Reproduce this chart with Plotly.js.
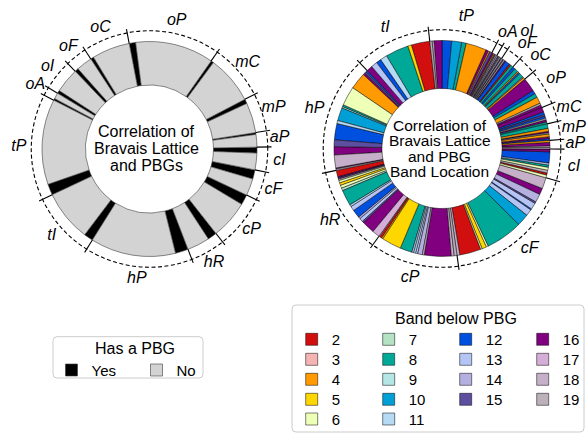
<!DOCTYPE html>
<html><head><meta charset="utf-8">
<script src="https://cdn.plot.ly/plotly-3.0.1.min.js"></script>
<style>html,body{margin:0;padding:0;background:#fff}#chart{width:587px;height:434px}</style>
</head><body><div id="chart"></div>
<script>
// ---------------- DATA ----------------
// Left ring: all structures per Bravais lattice (clockwise from top)
const latticeLeft = ['oP','mC','mP','aP','cI','cF','cP','hR','hP','tI','tP','oA','oI','oF','oC'];
const hasPBG_yes  = [3.5, 1.5, 2.4, 1.0, 3.2, 5.0, 5.6, 5.0, 7.0, 5.0, 6.0, 1.0, 1.7, 2.0, 1.7];
const hasPBG_no   = [42.4, 26.0, 16.3, 6.8, 9.0, 9.2, 20.8, 12.2, 46.1, 27.7, 46.2, 3.2, 13.4, 8.6, 20.5];

// Right ring: PBGs per lattice, split by band below the gap (clockwise from top)
const latticeRight = ['tP','oA','oI','oF','oC','oP','mC','mP','aP','cI','cF','cP','hR','hP','tI'];
const tP_band = [19,18,16,12,10,8,4,16,4,15];
const tP_val  = [1.2,1.0,4.3,5.2,5.3,2.5,11,1.5,0.8,1.2];
const oA_band = [16,4,15,19];
const oA_val  = [1.0,0.6,0.7,0.7];
const oI_band = [19,15,18,19,15];
const oI_val  = [0.6,0.6,0.6,0.6,0.6];
const oF_band = [19,15,19,16,12,2,8];
const oF_val  = [0.7,0.6,0.7,0.6,2.5,1.0,1.4];
const oC_band = [12,8,4,12,8,13,4];
const oC_val  = [1.5,2.0,0.6,1.0,2.4,0.5,1.0];
const oP_band = [16,12,8,4,19,16];
const oP_val  = [7.5,2.0,2.2,3.5,1.0,1.5];
const mC_band = [16,12,15,12,19,16,8];
const mC_val  = [2.5,1.5,0.8,1.3,0.8,1.2,1.0];
const mP_band = [8,4,16,19,4,16,12];
const mP_val  = [2.5,1.5,0.8,0.6,1.5,1.0,1.0];
const aP_band = [4,16,18,19];
const aP_val  = [1.0,2.0,0.8,0.8];
const cI_band = [16,12,13,8,6,19,2,6];
const cI_val  = [1.5,6.0,1.0,1.3,1.5,1.5,1.2,1.4];
const cF_band = [18,16,14,15,13,12,13,10,8,6,5,6,2,18];
const cF_val  = [6.0,3.5,4.5,0.8,3.5,0.7,3.5,6.5,20,1.0,2.5,0.8,11.5,1.5];
const cP_band = [19,18,16,18,14,13,11,13,8,5,4,2,3];
const cP_val  = [1.5,1.5,14.5,1.0,2.5,1.2,1.0,1.0,6.5,10.5,0.8,1.2,0.5];
const hR_band = [17,16,15,13,14,12,13,11,8,7,6,5,6,19,15,16,2];
const hR_val  = [4.0,7.0,0.8,2.0,1.0,4.5,2.5,1.0,8.5,1.5,1.5,1.5,1.2,0.8,0.6,0.7,3.5];
const hP_band = [19,16,18,16,15,12,11,10,9,8,6,4,16,15,12];
const hP_val  = [0.7,0.6,6.9,4.5,3.6,8.8,1.6,7.0,0.8,1.1,10.3,9.0,1.2,0.8,1.0];
const tI_band = [16,13,12,11,8,5,2];
const tI_val  = [3.2,3.3,2.7,3.7,12.5,1.9,10.0];

const bandList = [2,3,4,5,6,7,8,9,10,11,12,13,14,15,16,17,18,19];

// ---------------- STYLE ----------------
const FONT = 'Liberation Sans, Arial, Helvetica, sans-serif';
const bandColor = {2:'#d10f0f',3:'#f5b4b4',4:'#ff9a00',5:'#ffd700',6:'#eeffb8',7:'#b4e3c4',
  8:'#00a898',9:'#b4e6e6',10:'#00a0d6',11:'#b4daf4',12:'#0050e0',13:'#b4c4f4',14:'#b4b0e0',
  15:'#5e4ea0',16:'#800080',17:'#d4aed8',18:'#c6afc8',19:'#bcb0bb'};
const W = 587, H = 434;
const LEFT  = {cx:149.5, cy:149, R:107.5, inner:0.595, start:349.1, labelR:1.215, rmax:1.3};
const RIGHT = {cx:442, cy:148.5, R:108, inner:0.556, start:353.5, labelR:1.235, rmax:1.34};
const DASH_R = 1.1, TICK_R = 1.135;
// small label nudges where labels crowd (degrees / radius)
const labelNudge = {right:{oA:[0.6,1.235], oI:[4.2,1.335], oF:[2.0,1.245], oC:[1.2,1.255]}};

function domainOf(g){
  const rp = g.R*g.rmax;
  return {x:[Math.max(0,(g.cx-rp)/W),Math.min(1,(g.cx+rp)/W)], y:[Math.max(0,(H-g.cy-rp)/H),Math.min(1,(H-g.cy+rp)/H)]};
}
function lay(vals, start){
  const tot = vals.reduce((a,b)=>a+b,0); let a = start; const out=[];
  vals.forEach(v=>{const w=v/tot*360; out.push({s:a,w:w,c:a+w/2}); a+=w;});
  return out;
}

const traces = [];

// ---- left ring ----
const leftVals=[], leftType=[];
latticeLeft.forEach((g,i)=>{leftVals.push(hasPBG_yes[i],hasPBG_no[i]);leftType.push('Yes','No');});
const leftSeg = lay(leftVals, LEFT.start);
['Yes','No'].forEach(t=>{
  const idx = leftType.map((x,i)=>x===t?i:-1).filter(i=>i>=0);
  traces.push({type:'barpolar', subplot:'polar', name:t, legend:'legend',
    theta: idx.map(i=>leftSeg[i].c), width: idx.map(i=>leftSeg[i].w),
    r: idx.map(()=>1-LEFT.inner), base: idx.map(()=>LEFT.inner),
    marker:{color: t==='Yes'?'#000000':'#d3d3d3', line:{color:'#3c3c3c', width:0.6}},
    hoverinfo:'skip'});
});
const leftGroupStart = latticeLeft.map((g,i)=>leftSeg[2*i].s);
const leftGroupMid = latticeLeft.map((g,i)=>leftSeg[2*i].s + (leftSeg[2*i].w+leftSeg[2*i+1].w)/2);

// ---- right ring ----
const rightBands = [tP_band,oA_band,oI_band,oF_band,oC_band,oP_band,mC_band,mP_band,aP_band,cI_band,cF_band,cP_band,hR_band,hP_band,tI_band];
const rightVals  = [tP_val,oA_val,oI_val,oF_val,oC_val,oP_val,mC_val,mP_val,aP_val,cI_val,cF_val,cP_val,hR_val,hP_val,tI_val];
const segBand=[], segVal=[], segGroup=[];
rightBands.forEach((b,gi)=>b.forEach((bb,k)=>{segBand.push(bb);segVal.push(rightVals[gi][k]);segGroup.push(gi);}));
const rightSeg = lay(segVal, RIGHT.start);
const rightGroupStart=[], rightGroupEnd=[];
segGroup.forEach((g,i)=>{ if(rightGroupStart[g]===undefined) rightGroupStart[g]=rightSeg[i].s; rightGroupEnd[g]=rightSeg[i].s+rightSeg[i].w; });
const rightGroupMid = rightGroupStart.map((s,i)=>(s+rightGroupEnd[i])/2);

const legendRows = [[2,7,12,16],[3,8,13,17],[4,9,14,18],[5,10,15,19],[6,11]];
legendRows.forEach((row,ri)=>row.forEach(b=>{
  const idx = segBand.map((x,i)=>x===b?i:-1).filter(i=>i>=0);
  traces.push({type:'barpolar', subplot:'polar2', name:String(b), legend:'legend'+(ri+2),
    theta: idx.map(i=>rightSeg[i].c), width: idx.map(i=>rightSeg[i].w),
    r: idx.map(()=>1-RIGHT.inner), base: idx.map(()=>RIGHT.inner),
    marker:{color: bandColor[b], line:{color:'#000', width:0.5}}, hoverinfo:'skip'});
}));

// ---- group boundary ticks & labels ----
function tickTrace(starts, sub){
  const r=[], th=[];
  starts.forEach(s=>{r.push(1.0,TICK_R,null); th.push(s,s,null);});
  return {type:'scatterpolar', subplot:sub, mode:'lines', r:r, theta:th,
    line:{color:'#000', width:1.1}, showlegend:false, hoverinfo:'skip'};
}
traces.push(tickTrace(leftGroupStart,'polar'));
traces.push(tickTrace(rightGroupStart,'polar2'));
function labelTrace(names, mids, sub, baseR, nudge){
  nudge = nudge || {};
  return {type:'scatterpolar', subplot:sub, mode:'text',
    r:names.map(n=>nudge[n]?nudge[n][1]:baseR),
    theta:mids.map((m,i)=>m+(nudge[names[i]]?nudge[names[i]][0]:0)),
    text:names, textposition:'middle center', cliponaxis:false,
    textfont:{family:FONT, size:16, style:'italic', color:'#000'}, showlegend:false, hoverinfo:'skip'};
}
traces.push(labelTrace(latticeLeft, leftGroupMid, 'polar', LEFT.labelR));
traces.push(labelTrace(latticeRight, rightGroupMid, 'polar2', RIGHT.labelR, labelNudge.right));

// ---------------- LAYOUT ----------------
function polarLayout(g){
  return {domain:domainOf(g), bgcolor:'rgba(0,0,0,0)', barmode:'overlay', bargap:0,
    radialaxis:{range:[0,g.rmax], tickvals:[DASH_R], showticklabels:false, ticks:'', showline:false,
      showgrid:true, gridcolor:'#000', gridwidth:1.1, griddash:'4px,2.5px'},
    angularaxis:{direction:'clockwise', rotation:90, showgrid:false, showline:false, showticklabels:false, ticks:''}};
}
function roundBox(x0,y0,x1,y1,rad){ // pixel box -> paper path with rounded corners
  const px=x=>x/W, py=y=>1-y/H, rx=rad/W, ry=rad/H;
  const X0=px(x0),X1=px(x1),Y0=py(y0),Y1=py(y1);
  return `M${X0+rx},${Y0} L${X1-rx},${Y0} Q${X1},${Y0} ${X1},${Y0-ry} L${X1},${Y1+ry} Q${X1},${Y1} ${X1-rx},${Y1} `+
         `L${X0+rx},${Y1} Q${X0},${Y1} ${X0},${Y1+ry} L${X0},${Y0-ry} Q${X0},${Y0} ${X0+rx},${Y0} Z`;
}
const rowY = [339.3, 359.3, 379.3, 399.3, 419.0];
const layout = {
  width:W, height:H, margin:{l:0,r:0,t:0,b:0,autoexpand:false}, paper_bgcolor:'#fff',
  font:{family:FONT, color:'#000', size:15}, showlegend:true,
  polar: polarLayout(LEFT), polar2: polarLayout(RIGHT),
  legend:{x:51.5/W, y:1-(370-16.25)/H, xanchor:'left', yanchor:'top', orientation:'h',
    font:{size:15}, borderwidth:0, bgcolor:'rgba(0,0,0,0)', entrywidth:40},
  annotations:[], shapes:[]
};
rowY.forEach((y,ri)=>{
  layout['legend'+(ri+2)] = {x:291.7/W, y:1-(y-16.25)/H, xanchor:'left', yanchor:'top', orientation:'h',
    font:{size:15}, bgcolor:'rgba(0,0,0,0)', borderwidth:0, entrywidth:32, traceorder:'normal'};
});
layout.shapes.push({type:'path', xref:'paper', yref:'paper', path:roundBox(53,336.7,203,378,4),
  line:{color:'#cccccc', width:1}, fillcolor:'#ffffff', layer:'below'});
layout.shapes.push({type:'path', xref:'paper', yref:'paper', path:roundBox(292,305,584,432,4),
  line:{color:'#cccccc', width:1}, fillcolor:'#ffffff', layer:'below'});
layout.annotations.push({text:'Has a PBG', x:135/W, y:1-348/H, xref:'paper', yref:'paper',
  showarrow:false, xanchor:'center', yanchor:'middle', font:{size:16}});
layout.annotations.push({text:'Band below PBG', x:455.5/W, y:1-318.3/H, xref:'paper', yref:'paper',
  showarrow:false, xanchor:'center', yanchor:'middle', font:{size:16}});
const centerLeft = ['Correlation of','Bravais Lattice','and PBGs'];
const centerLeftY = [131.5, 148.5, 165.5];
centerLeft.forEach((t,i)=>layout.annotations.push({text:t, x:147/W, y:1-centerLeftY[i]/H, xref:'paper', yref:'paper',
  showarrow:false, xanchor:'center', yanchor:'middle', font:{size:16}}));
const centerRight = ['Correlation of','Bravais Lattice','and PBG','Band Location'];
const centerRightY = [125, 140.5, 156, 171];
centerRight.forEach((t,i)=>layout.annotations.push({text:t, x:439.5/W, y:1-centerRightY[i]/H, xref:'paper', yref:'paper',
  showarrow:false, xanchor:'center', yanchor:'middle', font:{size:15.5}}));

Plotly.newPlot('chart', traces, layout, {staticPlot:true, displayModeBar:false});
</script></body></html>
